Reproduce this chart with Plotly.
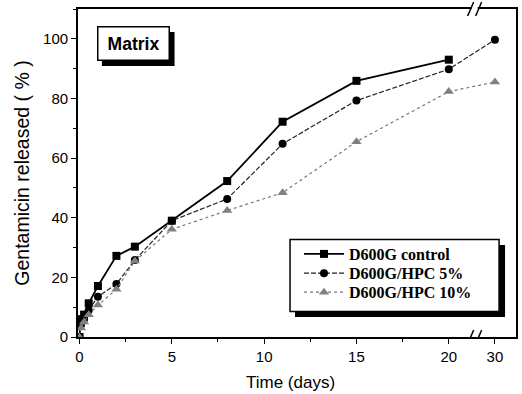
import plotly.graph_objects as go

# ---- data ----
time_days = [0, 0.08, 0.25, 0.5, 1, 2, 3, 5, 8, 11, 15, 20, 30]
control = [0, 6, 7.5, 11.3, 17.1, 27.2, 30.3, 39.0, 52.3, 72.2, 85.9, 93.0]
hpc5 = [0, 4, 6, 9, 13.5, 17.8, 25.8, 39.0, 46.3, 64.8, 79.3, 89.8, 99.7]
hpc10 = [0, 3, 5, 7.5, 10.7, 16.0, 25.5, 36.1, 42.4, 48.4, 65.5, 82.3, 85.5]
x_tick_days = [0, 5, 10, 15, 20, 30]
x_tick_labels = ["0", "5", "10", "15", "20", "30"]
y_ticks = [0, 20, 40, 60, 80, 100]

# broken x axis: 0-20 linear, then a break, 30 days placed at 22.5
BREAK_AT, BREAK_POS = 20, 22.5
def xmap(v):
    return v if v <= BREAK_AT else BREAK_POS

fig = go.Figure()
fig.add_trace(go.Scatter(
    x=[xmap(t) for t in time_days[:len(control)]], y=control,
    name="D600G control", mode="lines+markers", legend="legend",
    line=dict(color="black", width=1.8),
    marker=dict(symbol="square", size=8, color="black")))
fig.add_trace(go.Scatter(
    x=[xmap(t) for t in time_days], y=hpc5,
    name="D600G/HPC 5%", mode="lines+markers", legend="legend2",
    line=dict(color="#222222", width=1.2, dash="5px,2px"),
    marker=dict(symbol="circle", size=8, color="black")))
fig.add_trace(go.Scatter(
    x=[xmap(t) for t in time_days], y=hpc10,
    name="D600G/HPC 10%", mode="lines+markers", legend="legend3",
    line=dict(color="#777777", width=1.2, dash="dot"),
    marker=dict(symbol="triangle-up", size=9, color="#808080")))

L, R, T, B = 78, 4, 9, 57
W, H = 522, 394
pw, ph = W - L - R, H - T - B

def px_x(p):
    return (p - L) / pw

def px_y(p):
    return 1 - (p - T) / ph

shapes = [
    # Matrix box shadow
    dict(type="rect", xref="paper", yref="paper",
         x0=px_x(102), x1=px_x(175), y0=px_y(66), y1=px_y(32),
         fillcolor="black", line=dict(width=0), layer="above"),
    # legend shadow
    dict(type="rect", xref="paper", yref="paper",
         x0=px_x(296), x1=px_x(507), y0=px_y(317), y1=px_y(245),
         fillcolor="black", line=dict(width=0), layer="above"),
    # legend box
    dict(type="rect", xref="paper", yref="paper",
         x0=px_x(291), x1=px_x(501), y0=px_y(311.5), y1=px_y(239.5),
         fillcolor="white", line=dict(color="black", width=1.5), layer="above"),
]
brk = 21.4
for yanchor_val, yr in ((0, "y"), (1, "paper")):
    shapes.append(dict(type="rect", xref="x", yref=yr, xsizemode="pixel",
                       ysizemode="pixel", xanchor=brk, yanchor=yanchor_val,
                       x0=-3, x1=3, y0=-2.5, y1=2.5,
                       fillcolor="white", line=dict(width=0), layer="above"))
    for dx in (-4, 4):
        shapes.append(dict(type="line", xref="x", yref=yr, xsizemode="pixel",
                           ysizemode="pixel", xanchor=brk, yanchor=yanchor_val,
                           x0=dx - 3, x1=dx + 3, y0=-7, y1=7,
                           line=dict(color="black", width=1.5), layer="above"))

legend_font = dict(family="Liberation Serif, Times New Roman, serif",
                   size=16, color="black", weight="bold")
def leg(row_y):
    return dict(x=px_x(300), y=px_y(row_y), xanchor="left", yanchor="middle",
                bgcolor="rgba(0,0,0,0)", borderwidth=0, font=legend_font,
                itemwidth=40)

fig.update_layout(
    width=W, height=H,
    margin=dict(l=L, r=R, t=T, b=B),
    paper_bgcolor="white", plot_bgcolor="white",
    font=dict(family="Arial, Liberation Sans, sans-serif", color="black", size=15),
    showlegend=True,
    legend=leg(254), legend2=leg(273.3), legend3=leg(292.3),
    shapes=shapes,
    annotations=[
        dict(text="<b>Matrix</b>", xref="paper", yref="paper",
             x=px_x(133.5), y=px_y(44), xanchor="center", yanchor="middle",
             showarrow=False,
             font=dict(size=17.5, family="Arial, Liberation Sans, sans-serif"),
             bgcolor="white", bordercolor="black", borderwidth=1.5,
             width=66, height=28, borderpad=2),
        dict(text="Time (days)", xref="paper", yref="paper",
             x=px_x(291), y=px_y(382), xanchor="center", yanchor="middle",
             showarrow=False,
             font=dict(size=17, family="Arial, Liberation Sans, sans-serif")),
    ],
)
fig.update_xaxes(
    range=[-0.08, 23.64], tickvals=[xmap(v) for v in x_tick_days], ticktext=x_tick_labels,
    ticks="outside", ticklen=5, tickwidth=1.2, tickcolor="black",
    minor=dict(tickvals=[2.5, 7.5, 12.5, 17.5], ticks="outside", ticklen=3, tickcolor="black"),
    showline=True, linecolor="black", linewidth=1.8, mirror=True,
    showgrid=False, zeroline=False)
fig.update_yaxes(
    range=[0, 110], tickvals=y_ticks,
    ticks="outside", ticklen=5, tickwidth=1.2, tickcolor="black",
    minor=dict(dtick=10, ticks="outside", ticklen=3, tickcolor="black"),
    showline=True, linecolor="black", linewidth=1.8, mirror=True,
    showgrid=False, zeroline=False,
    title=dict(text="Gentamicin released ( % )", font=dict(size=19.5), standoff=8))

fig.write_html("out.html")
